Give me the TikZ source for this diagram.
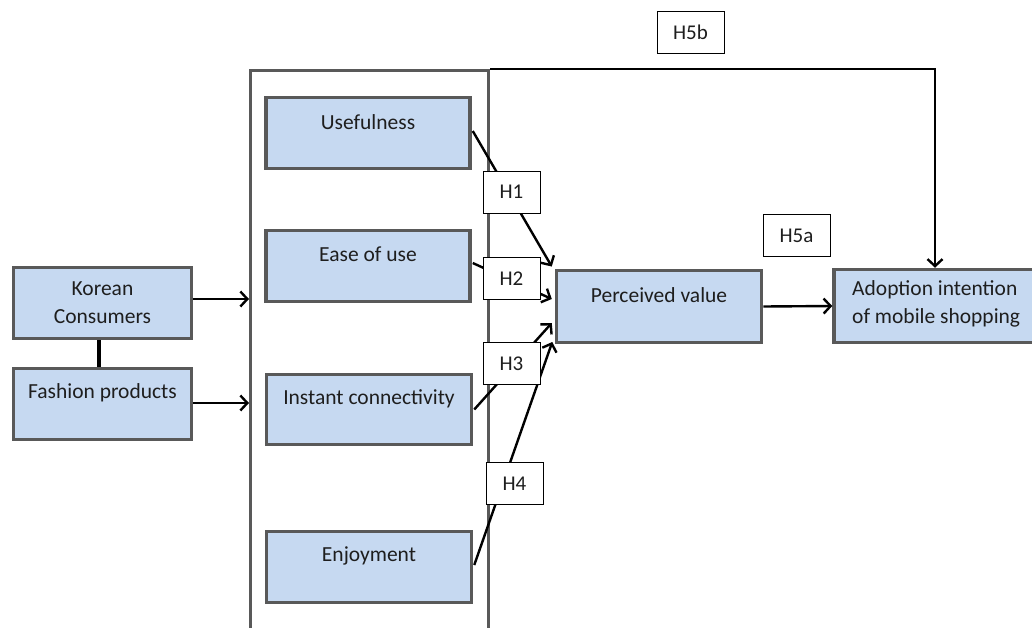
\documentclass[tikz,border=0pt]{standalone}
\usepackage{fontspec}
\setmainfont{Carlito}
\usetikzlibrary{arrows.meta,calc}
\definecolor{boxfill}{HTML}{C6D9F1}
\definecolor{boxline}{HTML}{595959}
\definecolor{ink}{HTML}{1E1E1E}
\begin{document}
\begin{tikzpicture}[x=1pt,y=-1pt,
  construct/.style={draw=boxline, line width=3.5pt, fill=boxfill, rectangle, inner sep=0pt},
  caption/.style={text=ink, inner sep=0pt, font=\fontsize{21.5}{28}\selectfont, align=center},
  hyp/.style={draw=black, line width=1pt, fill=white, rectangle, inner sep=0pt,
              minimum height=42pt, text=ink, font=\fontsize{21}{24}\selectfont},
  arr/.style={draw=black, line width=2.4pt, -{Straight Barb[length=7pt,width=15pt,line width=2.4pt]}},
  link/.style={draw=black, line width=4pt}]
\useasboundingbox (0,0) rectangle (1032,627);
\clip (0,0) rectangle (1032,627);

% frame around the four perceived attributes (open at the bottom)
\node[draw=boxline, line width=3pt, rectangle, inner sep=0pt,
      minimum width=238pt, minimum height=660pt, anchor=north west] (frame) at (249,69) {};

% antecedent boxes
\node[construct, minimum width=178pt, minimum height=71pt] (kor) at (102.5,303) {};
\node[caption] (korT) at (kor) {Korean\\Consumers};
\node[construct, minimum width=178pt, minimum height=71pt] (fash) at (102.5,404) {};
\node[caption] (fashT) at ($(fash)+(0,-11)$) {Fashion products};

% perceived attributes
\node[construct, minimum width=204pt, minimum height=71pt] (use) at (368,133) {};
\node[caption] (useT) at ($(use)+(0,-11)$) {Usefulness};
\node[construct, minimum width=204pt, minimum height=71pt] (ease) at (368,266) {};
\node[caption] (easeT) at ($(ease)+(0,-12)$) {Ease of use};
\node[construct, minimum width=205pt, minimum height=70pt] (inst) at (369,409.5) {};
\node[caption] (instT) at ($(inst)+(0,-10.5)$) {Instant connectivity};
\node[construct, minimum width=205pt, minimum height=71pt] (enj) at (369,567) {};
\node[caption] (enjT) at ($(enj)+(0,-11)$) {Enjoyment};

% outcome constructs
\node[construct, minimum width=205pt, minimum height=72pt] (pv) at (659,306.5) {};
\node[caption] (pvT) at ($(pv)+(0,-11.5)$) {Perceived value};
\node[construct, minimum width=211pt, minimum height=73pt] (adopt) at (939.5,306) {};
\node[caption, align=left, anchor=west] (adoptT) at (852,304) {Adoption intention\\of mobile shopping};

% connectors
\draw[link] (kor.south -| 99,0) -- (fash.north -| 99,0);
\draw[arr] (kor.east |- 0,299) -- (frame.west |- 0,299);
\draw[arr] (fash.east |- 0,403) -- (frame.west |- 0,403);

\draw[arr] ($(use.east)+(1,-2)$) -- ($(pv.west)+(-3,-40)$);
\draw[arr] ($(ease.east)+(1,-3)$) -- ($(pv.west)+(-3,-7.5)$);
\draw[arr] ($(inst.east)+(1,0)$) -- ($(pv.west)+(-3,16.5)$);
\draw[arr] ($(enj.east)+(1,-2)$) -- ($(pv.west)+(-2.5,35.5)$);

\draw[arr] (pv.east) -- (adopt.west);
\draw[arr] (frame.north east) -| ([xshift=-4.5pt]adopt.north);

% hypothesis labels
\node[hyp, minimum width=57pt] (h1) at (511.5,192) {H1};
\node[hyp, minimum width=57pt] (h2) at (511.5,278.5) {H2};
\node[hyp, minimum width=57pt] (h3) at (511.5,363.5) {H3};
\node[hyp, minimum width=57pt] (h4) at (514.5,483.5) {H4};
\node[hyp, minimum width=67pt] (h5a) at (796.5,235.5) {H5a};
\node[hyp, minimum width=67pt] (h5b) at (690.5,32) {H5b};
\end{tikzpicture}
\end{document}
